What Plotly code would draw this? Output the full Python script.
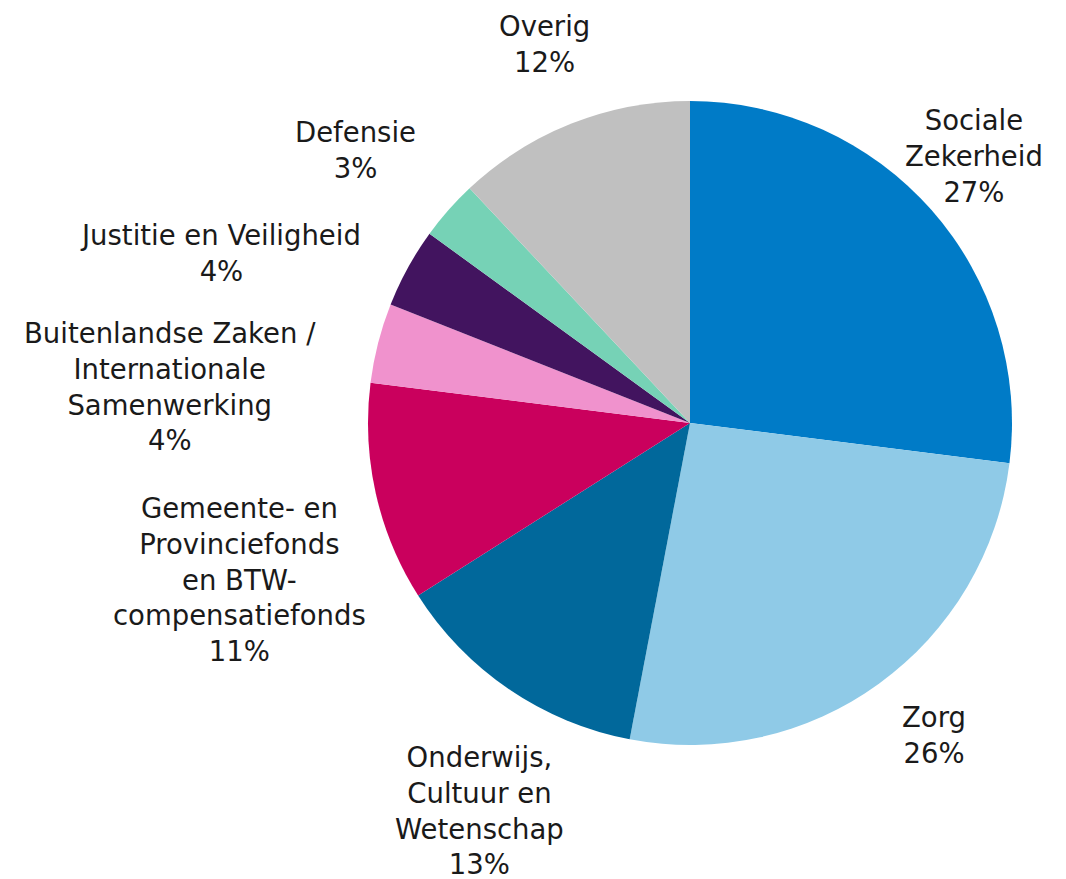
import math
import plotly.graph_objects as go

# Rijksuitgaven per beleidsterrein (aandeel in procenten)
categories = [
    "Sociale Zekerheid",
    "Zorg",
    "Onderwijs, Cultuur en Wetenschap",
    "Gemeente- en Provinciefonds en BTW-compensatiefonds",
    "Buitenlandse Zaken / Internationale Samenwerking",
    "Justitie en Veiligheid",
    "Defensie",
    "Overig",
]
shares = [27, 26, 13, 11, 4, 4, 3, 12]
label_lines = [
    "Sociale<br>Zekerheid",
    "Zorg",
    "Onderwijs,<br>Cultuur en<br>Wetenschap",
    "Gemeente- en<br>Provinciefonds<br>en BTW-<br>compensatiefonds",
    "Buitenlandse Zaken /<br>Internationale<br>Samenwerking",
    "Justitie en Veiligheid",
    "Defensie",
    "Overig",
]
colors = ["#007BC7", "#8FCAE7", "#01689B", "#CA005D",
          "#F092CD", "#42145F", "#76D2B6", "#C0C0C0"]

W, H = 1066, 879
cx, cy, r = 690, 423, 322          # pie centre and radius in pixels

# label placement: distance from centre (in radii) and angular nudge (deg)
label_dist = [1.21, 1.23, 1.37, 1.48, 1.62, 1.55, 1.34, 1.26]
label_nudge = [-1.8, -2.1, -5.7, -6.6, -10.4, -8.9, -2.2, 0.6]

fig = go.Figure(go.Pie(
    labels=categories,
    values=shares,
    sort=False,
    direction="clockwise",
    rotation=0,
    marker=dict(colors=colors, line=dict(width=0)),
    textinfo="none",
    hoverinfo="label+percent",
    showlegend=False,
    domain=dict(x=[(cx - r) / W, (cx + r) / W],
                y=[(H - cy - r) / H, (H - cy + r) / H]),
))

total = sum(shares)
cum = 0
for name, val, dist, nudge in zip(label_lines, shares, label_dist, label_nudge):
    mid = (cum + val / 2) / total * 360 + nudge
    cum += val
    a = math.radians(mid)
    px = cx + dist * r * math.sin(a)
    py = cy - dist * r * math.cos(a)
    fig.add_annotation(
        x=px / W, y=1 - py / H, xref="paper", yref="paper",
        text=f"{name}<br>{val}%", showarrow=False, align="center",
        xanchor="center", yanchor="middle",
        font=dict(family="DejaVu Sans", size=27.5, color="#1a1a1a"),
    )

fig.update_layout(
    width=W, height=H,
    margin=dict(l=0, r=0, t=0, b=0),
    paper_bgcolor="white",
    plot_bgcolor="white",
)

fig.write_html("out.html")
